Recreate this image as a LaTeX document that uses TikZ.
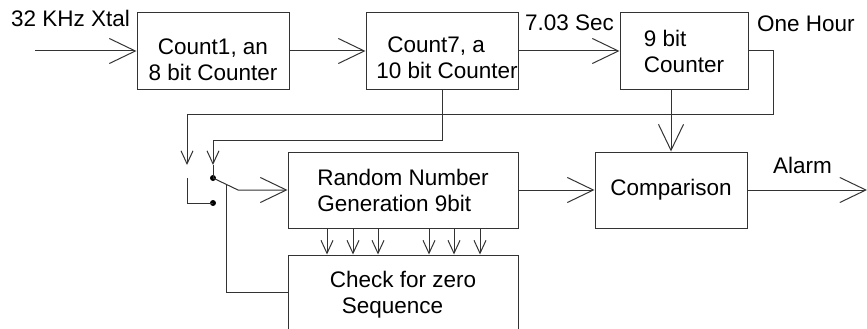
\documentclass[tikz,border=0pt]{standalone}
\usepackage{fontspec}
\setmainfont{Liberation Sans}
\usetikzlibrary{arrows.meta,calc}
\tikzset{
  blk/.style={draw=black!80,line width=1pt,inner sep=0pt,
    font=\fontsize{22.5}{26}\selectfont},
  wire/.style={draw=black!80,line width=1pt},
  bigarr/.style={wire,-{Straight Barb[length=26pt,width=25pt]}},
  smallarr/.style={wire,-{Straight Barb[length=13pt,width=12pt]}},
  lbl/.style={inner sep=0pt,anchor=base west,font=\fontsize{22.5}{26}\selectfont},
  contact/.style={circle,fill=black,inner sep=0pt,minimum size=6pt}
}

\begin{document}
\begin{tikzpicture}[x=1pt,y=-1pt]
  \useasboundingbox (0,0) rectangle (867,329);
  \clip (0,0) rectangle (867,329);

  % counter chain
  \node[blk,align=center,minimum width=152pt,minimum height=76pt] (count1) at (213,51)
    {\rule{0pt}{34pt}Count1, an\\8 bit Counter};
  \node[blk,align=left,minimum width=152pt,minimum height=76pt] (count7) at (442,51)
    {\rule{0pt}{30pt}\hspace*{21pt}Count7, a\\\hspace*{10pt}10 bit Counter};
  \node[blk,align=left,minimum width=128pt,minimum height=76pt] (nine) at (684,51)
    {9 bit\\Counter};

  % random number part
  \node[blk,align=left,minimum width=230pt,minimum height=76pt] (random) at (403,190)
    {Random Number\\Generation 9bit};
  \node[blk,align=left,minimum width=230pt,minimum height=90pt] (check) at (403,300)
    {Check for zero\\\hspace*{12pt}Sequence\rule[-16pt]{0pt}{16pt}};
  \node[blk,minimum width=152pt,minimum height=76pt] (compare) at (671,190) {Comparison};

  \coordinate (xin) at (35,51);
  \coordinate (xout) at (867,190);
  \coordinate (inA) at (187,165);
  \coordinate (inB) at (213,165);

  % selector switch
  \node[contact] (upper) at (213,178) {};
  \node[contact] (lower) at (213,203) {};
  \coordinate (blade) at (238,190);
  \coordinate (lever) at ($(upper.center)!0.52!(blade)$);

  \node[lbl] (xtal) at (11,27) {32 KHz Xtal};
  \node[lbl] (period) at (525,31) {7.03 Sec};
  \node[lbl] (hour) at (757,32) {One Hour};
  \node[lbl] (alarm) at (773,173) {Alarm};

  \draw[bigarr] (xin) -- (count1);
  \draw[bigarr] (count1) -- (count7);
  \draw[bigarr] (count7) -- (nine);

  \draw[smallarr] (nine.east) -| ++(25,63) -| (inA);
  \draw[smallarr] (count7.south) -- ++(0,51) -| (inB);
  \draw[wire] (inB) -- (upper.center);
  \draw[wire] ($(inA)+(0,13)$) |- (lower.center);
  \draw[bigarr] (upper.center) -- (blade) -- (random);
  \draw[wire] (lever) |- ([yshift=8pt]check.west);

  \foreach \dx in {-76,-50,-25,26,51,77}
    \draw[smallarr] ($(random.south)+(\dx,0)$) -- ($(check.north)+(\dx,0)$);

  \draw[bigarr] (nine.south -| compare.north) -- (compare.north);
  \draw[bigarr] (random) -- (compare);
  \draw[bigarr] (compare) -- (xout);
\end{tikzpicture}
\end{document}
